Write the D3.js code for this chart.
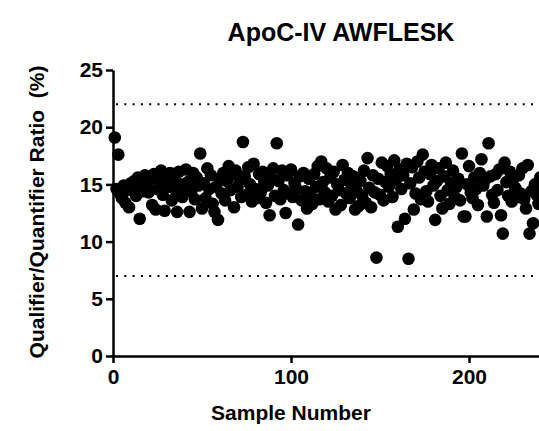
<!DOCTYPE html>
<html>
<head>
<meta charset="utf-8">
<script src="https://cdn.jsdelivr.net/npm/d3@7"></script>
<style>
  body { margin: 0; background: #fff; overflow: hidden; }
  svg { display: block; font-family: "Liberation Sans", Arial, sans-serif; }
  .axis text { font-weight: bold; font-size: 21px; fill: #000; }
  .axis path, .axis line { stroke: #000; stroke-width: 2.5; }
</style>
</head>
<body>
<div id="grafico"></div>
<script>
// title and axis labels
var titulo = "ApoC-IV AWFLESK";
var etiquetaX = "Sample Number";
var etiquetaY = "Qualifier/Quantifier Ratio  (%)";

// tick values
var ticksX = [0, 100, 200];
var ticksY = [0, 5, 10, 15, 20, 25];

// acceptance limits (dotted lines)
var limites = [22, 7];

// ratio (%) for sample 1, 2, 3 ...
var ratios = [
  19.1, 14.6, 17.6, 14.2, 13.8, 14.9, 13.4, 14.5, 13.0, 15.1,
  14.7, 15.3, 14.0, 15.6, 12.0, 15.2, 14.4, 15.8, 15.0, 14.3,
  15.5, 13.2, 15.9, 12.8, 14.6, 15.4, 16.2, 14.1, 12.7, 15.7,
  14.8, 16.0, 13.6, 15.3, 14.5, 12.6, 16.1, 15.0, 13.9, 14.7,
  16.3, 15.2, 12.6, 14.4, 16.0, 13.7, 15.6, 14.9, 17.7, 12.9,
  15.1, 13.8, 16.4, 14.6, 15.8, 13.3, 12.6, 14.8, 11.9, 15.5,
  14.2, 16.0, 13.6, 15.3, 16.6, 14.5, 15.9, 13.0, 16.2, 14.8,
  15.4, 13.9, 18.7, 15.7, 14.1, 16.5, 15.0, 13.5, 16.8, 14.6,
  13.8, 15.9, 14.3, 16.1, 15.2, 13.4, 14.9, 12.3, 15.6, 16.4,
  14.0, 18.6, 15.3, 13.7, 16.2, 14.5, 12.5, 15.8, 14.2, 16.3,
  13.9, 15.1, 14.6, 11.5, 15.7, 13.6, 16.0, 14.4, 12.9, 15.5,
  14.1, 13.3, 15.9, 14.8, 16.6, 13.7, 17.0, 15.2, 14.3, 16.4,
  13.5, 15.6, 14.0, 16.1, 12.8, 15.0, 14.5, 13.2, 16.7, 15.4,
  14.2, 16.0, 13.8, 14.9, 15.7, 12.8, 14.4, 13.1, 15.3, 14.0,
  16.2, 13.4, 17.3, 14.7, 13.0, 15.8, 14.3, 8.6, 15.5, 14.1,
  16.9, 13.6, 15.2, 16.6, 14.8, 15.9, 13.9, 17.1, 15.4, 11.3,
  16.3, 14.6, 15.8, 12.0, 16.8, 8.5, 15.1, 16.5, 12.8, 14.2,
  17.0, 15.6, 13.7, 17.6, 16.1, 14.4, 13.5, 15.9, 16.7, 14.9,
  11.9, 15.3, 16.4, 14.0, 12.9, 15.7, 16.9, 14.5, 13.3, 15.1,
  16.2, 13.9, 14.8, 15.5, 13.6, 17.7, 12.2, 12.2, 15.0, 16.6,
  14.3, 13.8, 15.6, 14.6, 13.2, 16.0, 17.2, 14.9, 15.4, 12.2,
  18.6, 15.7, 14.1, 13.4, 15.9, 14.5, 16.3, 12.3, 10.7, 16.9,
  15.2, 14.0, 16.1, 13.5, 15.5, 14.7, 13.9, 15.8, 14.2, 16.4,
  13.7, 12.9, 16.7, 10.7, 14.4, 11.6, 15.0, 14.1, 13.3, 15.6,
  14.8, 13.9
];

var width = 539,
    height = 431;
var margen = {top: 70, left: 113};
var altoPlot = 286;

var svg = d3.select("#grafico").append("svg")
    .attr("width", width)
    .attr("height", height);

var x = d3.scaleLinear().domain([0, 250]).range([0, 445]);
var y = d3.scaleLinear().domain([0, 25]).range([altoPlot, 0]);

var plot = svg.append("g")
    .attr("transform", "translate(" + margen.left + "," + margen.top + ")");

// dotted limit lines
plot.selectAll(".limite")
    .data(limites)
  .enter().append("line")
    .attr("class", "limite")
    .attr("x1", 3)
    .attr("x2", x(250))
    .attr("y1", function(d) { return y(d); })
    .attr("y2", function(d) { return y(d); })
    .attr("stroke", "#000")
    .attr("stroke-width", 2)
    .attr("stroke-dasharray", "2,6.3");

// points
plot.selectAll(".punto")
    .data(ratios)
  .enter().append("circle")
    .attr("class", "punto")
    .attr("cx", function(d, i) { return x(i + 1); })
    .attr("cy", function(d) { return y(d); })
    .attr("r", 6.3)
    .attr("fill", "#000");

// axes
var ejeX = plot.append("g")
    .attr("class", "axis")
    .attr("transform", "translate(0," + altoPlot + ")")
    .call(d3.axisBottom(x).tickValues(ticksX).tickSize(7).tickSizeOuter(0).tickPadding(6));

var ejeY = plot.append("g")
    .attr("class", "axis")
    .call(d3.axisLeft(y).tickValues(ticksY).tickSize(7).tickSizeOuter(0).tickPadding(3));

// title
svg.append("text")
    .attr("x", 341)
    .attr("y", 41)
    .attr("text-anchor", "middle")
    .style("font-weight", "bold")
    .style("font-size", "25px")
    .text(titulo);

// x label
svg.append("text")
    .attr("x", 291)
    .attr("y", 420)
    .attr("text-anchor", "middle")
    .style("font-weight", "bold")
    .style("font-size", "21px")
    .text(etiquetaX);

// y label (keeps the double space)
svg.append("text")
    .attr("transform", "translate(44," + 212 + ") rotate(-90)")
    .attr("text-anchor", "middle")
    .style("font-weight", "bold")
    .style("font-size", "21px")
    .style("white-space", "pre")
    .text(etiquetaY);
</script>
</body>
</html>
